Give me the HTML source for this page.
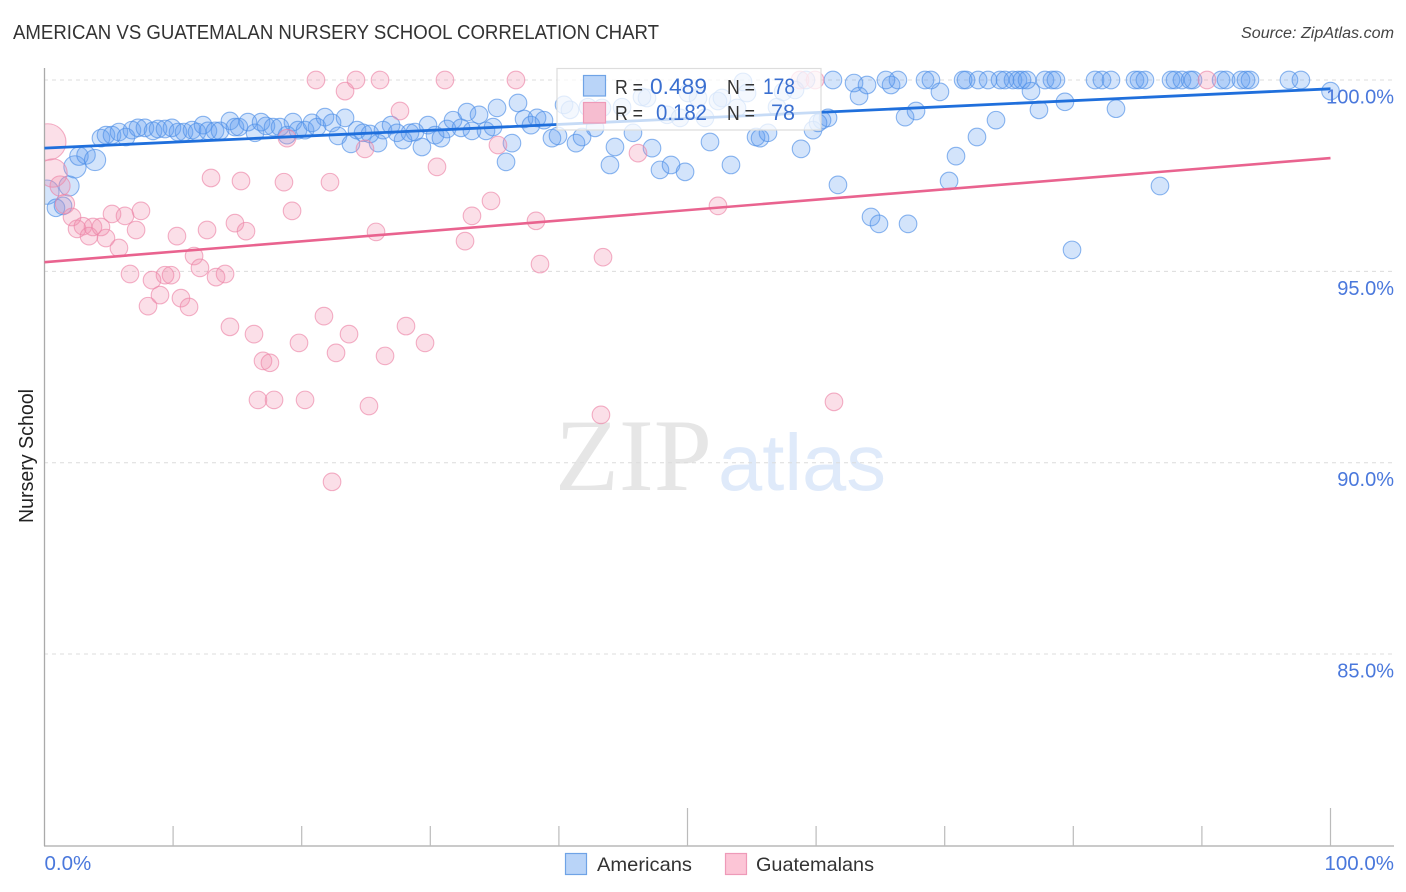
<!DOCTYPE html>
<html lang="en">
<head>
<meta charset="utf-8">
<title>American vs Guatemalan Nursery School Correlation Chart</title>
<style>
html,body{margin:0;padding:0;background:#fff;}
svg{display:block;font-family:"Liberation Sans",sans-serif;}
</style>
</head>
<body>
<svg id="chart" xmlns="http://www.w3.org/2000/svg" width="1406" height="892" viewBox="0 0 1406 892">
  <text x="13" y="39" font-size="20" fill="#333" textLength="646" lengthAdjust="spacingAndGlyphs">AMERICAN VS GUATEMALAN NURSERY SCHOOL CORRELATION CHART</text>
  <text x="1241" y="38" font-size="15.5" font-style="italic" fill="#444" textLength="153" lengthAdjust="spacingAndGlyphs">Source: ZipAtlas.com</text>
  <g>
    <text x="555" y="490" font-family="'Liberation Serif',serif" font-size="103" fill="#e6e6e6" textLength="157" lengthAdjust="spacingAndGlyphs">ZIP</text>
    <text x="718" y="490" font-size="80" fill="#dfeafa" textLength="168" lengthAdjust="spacingAndGlyphs">atlas</text>
  </g>
  <g id="grid"></g>
  <svg id="series" x="44" y="60" width="1362" height="786" viewBox="44 60 1362 786"></svg>
  <rect x="0" y="100" width="44" height="130" fill="#fff"/>
  <text transform="translate(33,456) rotate(-90)" font-size="20" fill="#222" text-anchor="middle" textLength="134" lengthAdjust="spacingAndGlyphs">Nursery School</text>
  <g id="axes"></g>
  <g id="trends"></g>
  <g>
    <rect x="557" y="68.500" width="264" height="61.500" fill="#fff" fill-opacity="0.75" stroke="#ddd" stroke-width="1.200"/>
    <rect x="583.500" y="75.500" width="22" height="20.500" fill="#b9d4f8" stroke="#6fa3e6" stroke-width="1.200"/>
    <rect x="583.500" y="102.500" width="22" height="20.500" fill="#f6bdd0" stroke="#ee9ab8" stroke-width="1.200"/>
    <text x="615" y="94" font-size="20" fill="#333" textLength="28" lengthAdjust="spacingAndGlyphs">R =</text>
    <text x="650" y="94" font-size="22" fill="#3a6fd0" textLength="57" lengthAdjust="spacingAndGlyphs">0.489</text>
    <text x="727" y="94" font-size="20" fill="#333" textLength="28" lengthAdjust="spacingAndGlyphs">N =</text>
    <text x="763" y="94" font-size="22" fill="#3a6fd0" textLength="32" lengthAdjust="spacingAndGlyphs">178</text>
    <text x="615" y="120" font-size="20" fill="#333" textLength="28" lengthAdjust="spacingAndGlyphs">R =</text>
    <text x="656" y="120" font-size="22" fill="#3a6fd0" textLength="51" lengthAdjust="spacingAndGlyphs">0.182</text>
    <text x="727" y="120" font-size="20" fill="#333" textLength="28" lengthAdjust="spacingAndGlyphs">N =</text>
    <text x="771" y="120" font-size="22" fill="#3a6fd0" textLength="24" lengthAdjust="spacingAndGlyphs">78</text>
  </g>
  <g id="labels"></g>
  <g>
    <rect x="565.500" y="853.500" width="21" height="21" fill="#b9d4f8" stroke="#6fa3e6" stroke-width="1.200"/>
    <text x="597" y="871" font-size="19.500" fill="#333" textLength="95" lengthAdjust="spacingAndGlyphs">Americans</text>
    <rect x="725.500" y="853.500" width="21" height="21" fill="#fcc5d6" stroke="#ee9ab8" stroke-width="1.200"/>
    <text x="756" y="871" font-size="19.500" fill="#333" textLength="118" lengthAdjust="spacingAndGlyphs">Guatemalans</text>
  </g>
</svg>
<script>
const americanX = [
  0.19,0.89,1.44,1.91,2.37,2.68,3.23,3.93,
  4.39,4.78,5.25,5.79,6.34,6.80,7.27,7.81,8.44,8.83,9.37,9.91,
  10.38,10.85,11.47,11.86,12.33,12.71,13.26,13.65,14.42,14.81,15.12,15.82,16.37,16.84,17.22,17.77,
  18.31,18.86,19.32,19.71,20.26,20.80,21.19,21.81,22.36,22.82,23.37,23.83,24.30,24.77,25.31,25.94,
  26.32,26.95,27.41,27.88,28.42,28.81,29.35,29.82,30.37,30.83,31.30,31.77,32.39,32.85,33.24,33.79,
  34.33,34.88,35.19,36.35,35.89,36.82,37.29,37.83,38.30,38.84,39.46,39.93,41.33,41.80,42.81,44.36,
  43.97,45.76,47.24,47.86,48.72,49.81,51.75,53.38,55.33,55.64,56.26,58.83,59.76,60.46,60.93,61.70,
  64.27,64.89,67.15,70.34,70.88,72.51,73.99,66.92,67.77,69.63,63.34,62.95,63.96,65.83,76.71,77.33,
  79.35,83.32,86.74,79.90,100.00,
  40.40,40.86,42.26,43.35,44.91,46.46,46.85,48.41,49.42,50.04,50.82,51.36,52.37,52.68,53.85,54.32,
  54.63,56.96,57.43,58.36,60.15,59.21,
  61.31,65.43,66.36,68.47,68.93,71.43,71.66,72.60,73.37,74.30,74.69,75.31,75.70,76.01,76.40,77.80,
  78.34,78.65,81.69,82.23,82.93,84.80,85.11,85.57,87.60,87.91,88.45,89.08,89.31,91.49,91.88,93.04,
  93.43,93.74,96.77,97.70
];
const americanY = [
  97.07,96.66,96.71,97.23,97.73,98.01,98.04,97.91,
  98.48,98.56,98.56,98.64,98.51,98.69,98.75,98.75,98.67,98.72,98.72,98.75,
  98.64,98.64,98.69,98.64,98.82,98.67,98.67,98.67,98.93,98.77,98.77,98.90,98.62,98.90,98.80,98.77,
  98.77,98.56,98.90,98.69,98.69,98.88,98.77,99.03,98.88,98.54,99.01,98.33,98.69,98.62,98.59,98.35,
  98.69,98.82,98.62,98.43,98.62,98.64,98.25,98.82,98.56,98.48,98.72,98.95,98.75,99.16,98.67,99.09,
  98.67,98.77,99.27,98.35,97.86,99.40,98.98,98.82,99.01,98.95,98.48,98.54,98.35,98.51,98.75,98.25,
  97.78,98.62,98.22,97.65,97.78,97.60,98.38,97.78,98.51,98.48,98.62,98.20,98.69,98.95,99.01,97.26,
  96.42,96.24,96.24,97.36,98.01,98.51,98.95,99.03,99.19,99.69,99.58,99.92,99.87,99.87,99.71,99.22,
  99.43,99.25,97.23,95.56,99.71,
  99.35,99.22,99.29,99.27,99.29,99.56,99.53,99.09,99.01,99.66,99.53,99.01,99.45,99.53,99.27,99.95,
  99.66,99.29,99.69,99.74,98.88,100,
  100,100,100,100,100,100,100,100,100,100,100,100,100,100,100,100,
  100,100,100,100,100,100,100,100,100,100,100,100,100,100,100,100,
  100,100,100,100
];
const americanWeight = [1.9,1,1,1.3,1.6,1.1,1.1,1.45];
const guatemalanX = [
  0.25,0.66,1.21,1.59,2.14,2.53,2.99,3.46,3.77,4.39,4.78,5.25,5.79,6.26,6.65,7.12,
  7.50,8.05,8.36,8.98,9.37,9.84,10.30,10.61,11.24,11.63,12.09,12.64,12.95,13.34,14.04,14.42,
  14.81,15.28,15.67,16.29,16.99,17.53,16.60,17.85,18.62,18.86,19.25,19.79,20.26,21.11,21.73,22.20,
  22.36,22.67,23.37,23.68,24.22,24.92,25.23,25.78,26.09,26.48,27.64,28.11,29.59,30.52,31.14,32.70,
  33.24,34.72,35.26,36.66,38.22,38.53,43.27,43.43,46.15,52.37,58.75,59.92,61.39,90.40
];
const guatemalanY = [
  98.38,97.57,97.23,96.76,96.42,96.11,96.18,95.92,96.16,96.16,95.87,96.50,95.61,96.45,94.93,96.08,
  96.58,94.09,94.77,94.38,94.90,94.90,95.92,94.30,94.07,95.40,95.09,96.08,97.44,94.85,94.93,93.55,
  96.26,97.36,96.05,93.36,92.66,92.61,91.64,91.64,97.33,98.48,96.58,93.13,91.64,100,93.83,97.33,
  89.50,92.87,99.71,93.36,100,98.20,91.48,96.03,100,92.79,99.19,93.57,93.13,97.73,100,95.79,
  96.45,96.84,98.30,100,96.32,95.19,91.25,95.37,98.09,96.71,100,100,91.59,100
];
const guatemalanWeight = [4.3,2.6,1.3,1.2];
const americanTrendEnds = [98.22,99.77];
const guatemalanTrendEnds = [95.24,97.96];
const yTicks = [100,95,90,85];
const yTickLabels = ["100.0%","95.0%","90.0%","85.0%"];
const xTicks = [10,20,30,40,50,60,70,80,90,100];
const xMajorTicks = [50,100];
const xEndValues = [0,100];
const xEndLabels = ["0.0%","100.0%"];

const NS = "http://www.w3.org/2000/svg";
function xScale(v){ return 44.5 + v * 12.86; }
function yScale(v){ return 80 + (100 - v) * 38.27; }
function bubbleRadius(w){ return 8.8 * Math.sqrt(w); }

function make(tag, parent, attrs){
  const el = document.createElementNS(NS, tag);
  for (const k in attrs) el.setAttribute(k, attrs[k]);
  parent.appendChild(el);
  return el;
}

const grid = document.getElementById("grid");
const axes = document.getElementById("axes");
const series = document.getElementById("series");
const trends = document.getElementById("trends");
const labels = document.getElementById("labels");

yTicks.forEach(function(t, i){
  const g = make("line", grid, {x1:44, x2:1394, y1:yScale(t), y2:yScale(t), stroke:"#dcdcdc", "stroke-width":1, "stroke-dasharray":"4 4"});
  
  
  const l = make("text", labels, {x:1394, y:yScale(t) + 23.5, "font-size":20, fill:"#4a78dc", "text-anchor":"end"});
  l.textContent = yTickLabels[i];
  
  
});

const yAxis = make("line", axes, {x1:44.5, x2:44.5, y1:68, y2:846, stroke:"#aaa", "stroke-width":1.3});


const xAxis = make("line", axes, {x1:44, x2:1394, y1:846, y2:846, stroke:"#aaa", "stroke-width":1.3});



xTicks.forEach(function(t){
  const top = xMajorTicks.indexOf(t) >= 0 ? 808 : 826;
  const k = make("line", axes, {x1:xScale(t), x2:xScale(t), y1:top, y2:846, stroke:"#bbb", "stroke-width":1.2});
  
  
});

xEndValues.forEach(function(v, i){
  const anchor = i === 0 ? "start" : "end";
  const px = i === 0 ? xScale(v) : 1394;
  const l = make("text", labels, {x:px, y:870, "font-size":20.5, fill:"#4a78dc", "text-anchor":anchor});
  l.textContent = xEndLabels[i];
  
  
});

americanX.forEach(function(v, i){
  const w = i < americanWeight.length ? americanWeight[i] : 1;
  const c = make("circle", series, {cx:xScale(v), cy:yScale(americanY[i]), r:bubbleRadius(w), fill:"#5d9cf0", "fill-opacity":0.27, stroke:"#4f8fe6", "stroke-opacity":0.65, "stroke-width":1.1});
  
  
});

guatemalanX.forEach(function(v, i){
  const w = i < guatemalanWeight.length ? guatemalanWeight[i] : 1;
  const c = make("circle", series, {cx:xScale(v), cy:yScale(guatemalanY[i]), r:bubbleRadius(w), fill:"#f28cae", "fill-opacity":0.28, stroke:"#ec86a8", "stroke-opacity":0.65, "stroke-width":1.1});
  
  
});

const blueLine = make("line", trends, {x1:xScale(0), x2:xScale(100), y1:yScale(americanTrendEnds[0]), y2:yScale(americanTrendEnds[1]), stroke:"#1f6fdc", "stroke-width":2.8});


const pinkLine = make("line", trends, {x1:xScale(0), x2:xScale(100), y1:yScale(guatemalanTrendEnds[0]), y2:yScale(guatemalanTrendEnds[1]), stroke:"#e9638f", "stroke-width":2.6});


</script>
</body>
</html>
